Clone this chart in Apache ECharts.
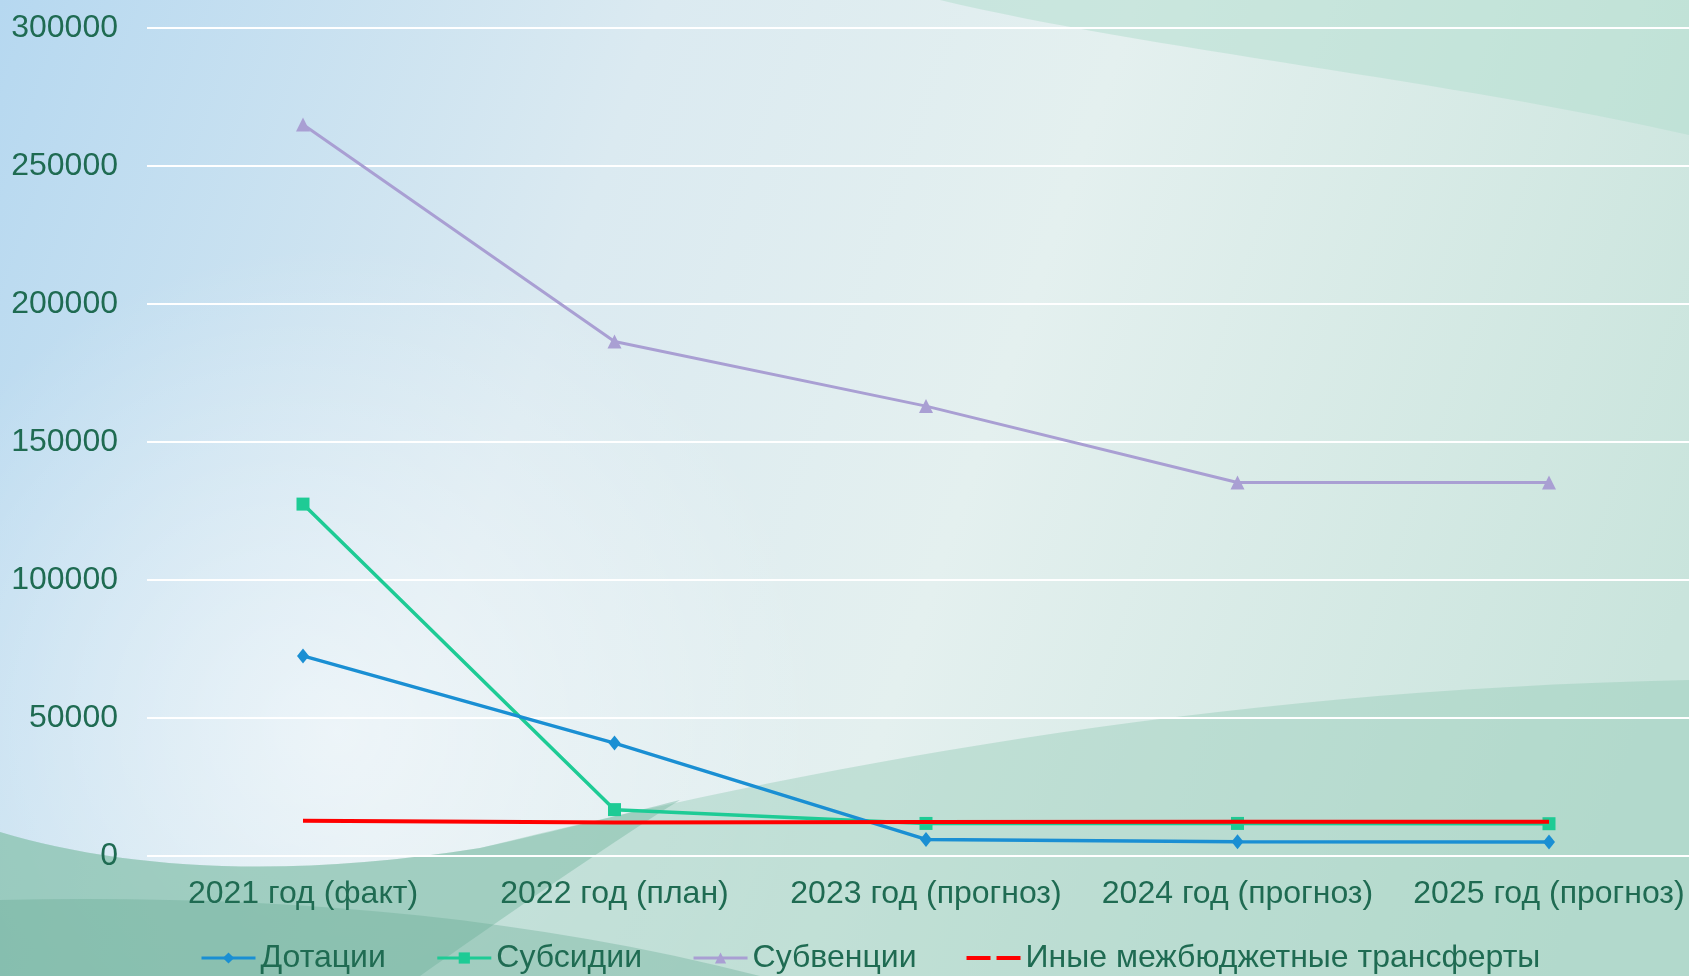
<!DOCTYPE html>
<html>
<head>
<meta charset="utf-8">
<script src="https://cdn.jsdelivr.net/npm/echarts@6/dist/echarts.min.js"></script>
<style>
html,body{margin:0;padding:0;width:1689px;height:976px;overflow:hidden;}
#chart{width:1689px;height:976px;}
</style>
</head>
<body>
<div id="chart"></div>
<script>
const categories = ['2021 год (факт)', '2022 год (план)', '2023 год (прогноз)', '2024 год (прогноз)', '2025 год (прогноз)'];
const seriesNames = ['Дотации', 'Субсидии', 'Субвенции', 'Иные межбюджетные трансферты'];
const dotacii = [72500, 40900, 6000, 5200, 5100];
const subsidii = [127500, 16800, 11800, 11800, 11700];
const subvencii = [265000, 186400, 163000, 135300, 135300];
const inye = [12800, 12100, 12300, 12400, 12400];
const yTicks = { min: 0, max: 300000, interval: 50000 };

const textColor = '#1f6b52';
const font = 'Liberation Sans, Arial, sans-serif';

echarts.graphic.registerShape('bgTop', echarts.graphic.extendPath('M 940 0 C 1150 50 1450 80 1689 135 L 1689 0 Z', {}));
echarts.graphic.registerShape('bgHill', echarts.graphic.extendPath('M 0 832 C 120 868 280 880 480 848 C 800 770 1200 690 1689 680 L 1689 976 L 0 976 Z', {}));
echarts.graphic.registerShape('bgLeft', echarts.graphic.extendPath('M 0 832 C 120 868 280 880 480 848 C 560 830 620 815 680 800 C 600 850 500 920 420 976 L 0 976 Z', {}));
echarts.graphic.registerShape('bgBottom', echarts.graphic.extendPath('M 0 900 C 250 895 500 910 760 976 L 0 976 Z', {}));

const chart = echarts.init(document.getElementById('chart'));
chart.setOption({
  animation: false,
  graphic: {
    elements: [
      { type: 'rect', z: -10, silent: true, shape: { x: 0, y: 0, width: 1689, height: 976 },
        style: { fill: new echarts.graphic.LinearGradient(0, 0, 1, 0.6, [
          { offset: 0, color: '#b6d8f0' },
          { offset: 0.35, color: '#dbeaf1' },
          { offset: 0.6, color: '#e4f0ef' },
          { offset: 1, color: '#c9e4dc' }
        ]) } },
      { type: 'bgTop', z: -9, silent: true, style: { fill: 'rgba(180,222,208,0.55)' } },
      { type: 'rect', z: -9, silent: true, shape: { x: 0, y: 0, width: 1689, height: 976 },
        style: { fill: new echarts.graphic.RadialGradient(0.2, 0.75, 0.5, [
          { offset: 0, color: 'rgba(255,255,255,0.55)' },
          { offset: 1, color: 'rgba(255,255,255,0)' }
        ]) } },
      { type: 'bgHill', z: -8, silent: true, style: { fill: 'rgba(150,203,184,0.45)' } },
      { type: 'bgLeft', z: -7, silent: true, style: { fill: 'rgba(120,185,162,0.45)' } },
      { type: 'bgBottom', z: -6, silent: true, style: { fill: 'rgba(100,170,145,0.35)' } }
    ]
  },
  grid: [
    { left: 147, top: 28, height: 828, right: 0, containLabel: false },
    { left: 303, top: 28, height: 828, width: 1246, containLabel: false }
  ],
  legend: {
    left: 195, top: 937,
    itemWidth: 54, itemHeight: 14, itemGap: 50,
    lineStyle: { width: 3 },
    textStyle: { color: textColor, fontSize: 32, fontFamily: font },
    data: [
      { name: seriesNames[0] },
      { name: seriesNames[1] },
      { name: seriesNames[2] },
      { name: seriesNames[3], icon: 'path://M0,0H24V4H0Z M30,0H54V4H30Z' }
    ]
  },
  xAxis: [
    { gridIndex: 0, type: 'category', data: categories, show: false },
    { gridIndex: 1, type: 'category', data: categories, boundaryGap: false,
      axisLine: { show: false }, axisTick: { show: false }, splitLine: { show: false },
      axisLabel: { color: textColor, fontSize: 32, fontFamily: font, margin: 22, interval: 0 } }
  ],
  yAxis: [
    { gridIndex: 0, type: 'value', min: yTicks.min, max: yTicks.max, interval: yTicks.interval,
      axisLine: { show: false }, axisTick: { show: false },
      axisLabel: { color: textColor, fontSize: 32, fontFamily: font, margin: 29, formatter: v => String(v) },
      splitLine: { lineStyle: { color: '#ffffff', width: 2 } } },
    { gridIndex: 1, type: 'value', min: yTicks.min, max: yTicks.max, interval: yTicks.interval, show: false,
      splitLine: { show: false } }
  ],
  series: [
    { name: seriesNames[0], type: 'line', xAxisIndex: 1, yAxisIndex: 1, data: dotacii, symbol: 'diamond', symbolSize: [12, 15],
      itemStyle: { color: '#1a8fd3' }, lineStyle: { width: 3.5, color: '#1a8fd3' }, z: 4 },
    { name: seriesNames[1], type: 'line', xAxisIndex: 1, yAxisIndex: 1, data: subsidii, symbol: 'rect', symbolSize: 13,
      itemStyle: { color: '#1ecb95' }, lineStyle: { width: 3.5, color: '#1ecb95' }, z: 3 },
    { name: seriesNames[2], type: 'line', xAxisIndex: 1, yAxisIndex: 1, data: subvencii, symbol: 'triangle', symbolSize: 14,
      itemStyle: { color: '#a99fd3' }, lineStyle: { width: 3, color: '#a99fd3' }, z: 2 },
    { name: seriesNames[3], type: 'line', xAxisIndex: 1, yAxisIndex: 1, data: inye, symbol: 'none',
      itemStyle: { color: '#ff0000' }, lineStyle: { width: 4, color: '#ff0000' }, z: 5 }
  ]
});
</script>
</body>
</html>
